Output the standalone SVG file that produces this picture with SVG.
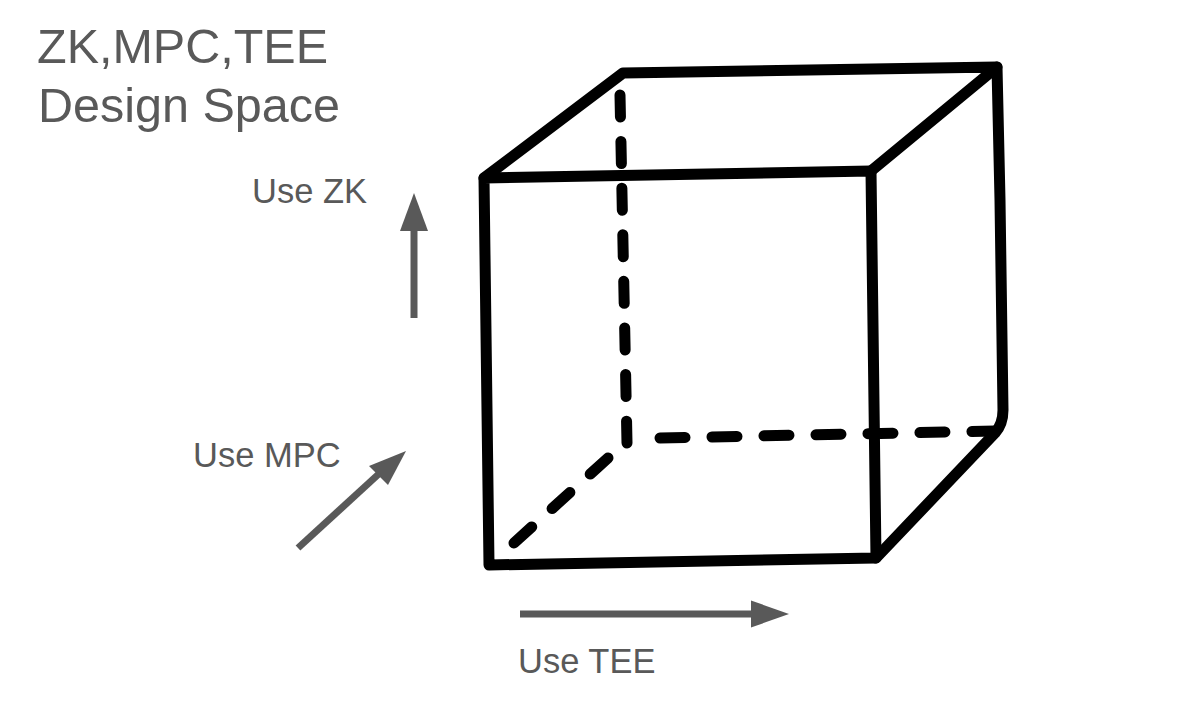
<svg xmlns="http://www.w3.org/2000/svg" width="1200" height="722" viewBox="0 0 1200 722">
<style>
.title{font-family:"Liberation Sans",Arial,sans-serif;font-size:48.5px;fill:#595959}
.lbl{font-family:"Liberation Sans",Arial,sans-serif;font-size:34.5px;fill:#595959}
.edge{fill:none;stroke:#000;stroke-width:11;stroke-linecap:round;stroke-linejoin:round}
.hid{fill:none;stroke:#000;stroke-width:11;stroke-linecap:round}
.arr{stroke:#595959;stroke-width:7;fill:none}
.head{fill:#595959}
</style>
<rect width="1200" height="722" fill="#fff"/>
<g id="title">
<text class="title" x="37" y="63">ZK,MPC,TEE</text>
<text class="title" x="38" y="122">Design Space</text>
</g>
<g id="cube">
<path class="hid" d="M620,95 L627,443" stroke-dasharray="22 24.6"/>
<path class="hid" d="M660,438 L995,431" stroke-dasharray="25 27"/>
<path class="hid" d="M608,458 L514,543" stroke-dasharray="24 27.4"/>
<path class="edge" d="M484,178 L871,171 L876,558 L489,565 Z"/>
<path class="edge" d="M484,178 L623,73 L997,67 L871,171"/>
<path class="edge" d="M997,67 L1000,200 L1003,410 Q1003,424 995,433 L876,558"/>
</g>
<g id="axis-zk">
<line class="arr" x1="414" y1="318" x2="414" y2="228"/>
<polygon class="head" points="414,193 400,231 428,231"/>
<text class="lbl" x="252" y="203">Use ZK</text>
</g>
<g id="axis-mpc">
<line class="arr" x1="298" y1="548" x2="382" y2="471"/>
<polygon class="head" points="406,451 369,466 388,485"/>
<text class="lbl" x="193" y="467">Use MPC</text>
</g>
<g id="axis-tee">
<line class="arr" x1="520" y1="614" x2="756" y2="614"/>
<polygon class="head" points="789,614 751,600.5 751,627.5"/>
<text class="lbl" x="518" y="673">Use TEE</text>
</g>
</svg>
